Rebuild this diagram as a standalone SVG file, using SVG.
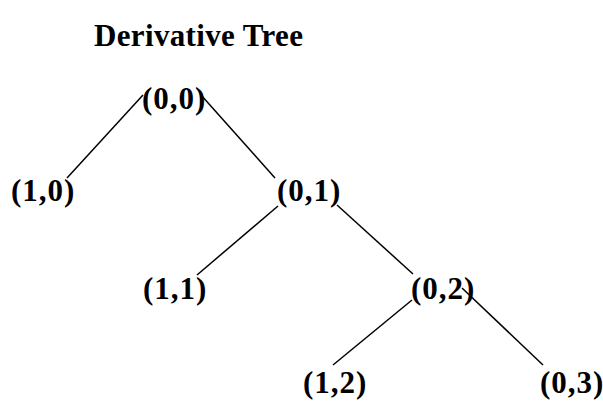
<svg xmlns="http://www.w3.org/2000/svg" width="603" height="405" viewBox="0 0 603 405">
<style>
text{font-family:"Liberation Serif","Times New Roman",serif;font-weight:bold;fill:#000}
.t{font-size:31px;letter-spacing:0.35px}
.n{font-size:31px;letter-spacing:1px}
line{stroke:#000;stroke-width:1.5}
</style>
<rect width="603" height="405" fill="#fff"/>
<text class="t" x="94" y="46">Derivative Tree</text>
<g id="connectors">
<line x1="143" y1="95" x2="67" y2="178"/>
<line x1="201" y1="95" x2="275" y2="178"/>
<line x1="278" y1="206" x2="197" y2="275"/>
<line x1="337" y1="205" x2="413" y2="274"/>
<line x1="412" y1="300" x2="333" y2="365"/>
<line x1="462" y1="288" x2="543" y2="365"/>
</g>
<g id="n00"><text class="n" x="142" y="109">(0,0)</text></g>
<g id="n10"><text class="n" x="11" y="201">(1,0)</text></g>
<g id="n01"><text class="n" x="277" y="201">(0,1)</text></g>
<g id="n11"><text class="n" x="143" y="299">(1,1)</text></g>
<g id="n02"><text class="n" x="411" y="299">(0,2)</text></g>
<g id="n12"><text class="n" x="303" y="393">(1,2)</text></g>
<g id="n03"><text class="n" x="540" y="393">(0,3)</text></g>
</svg>
